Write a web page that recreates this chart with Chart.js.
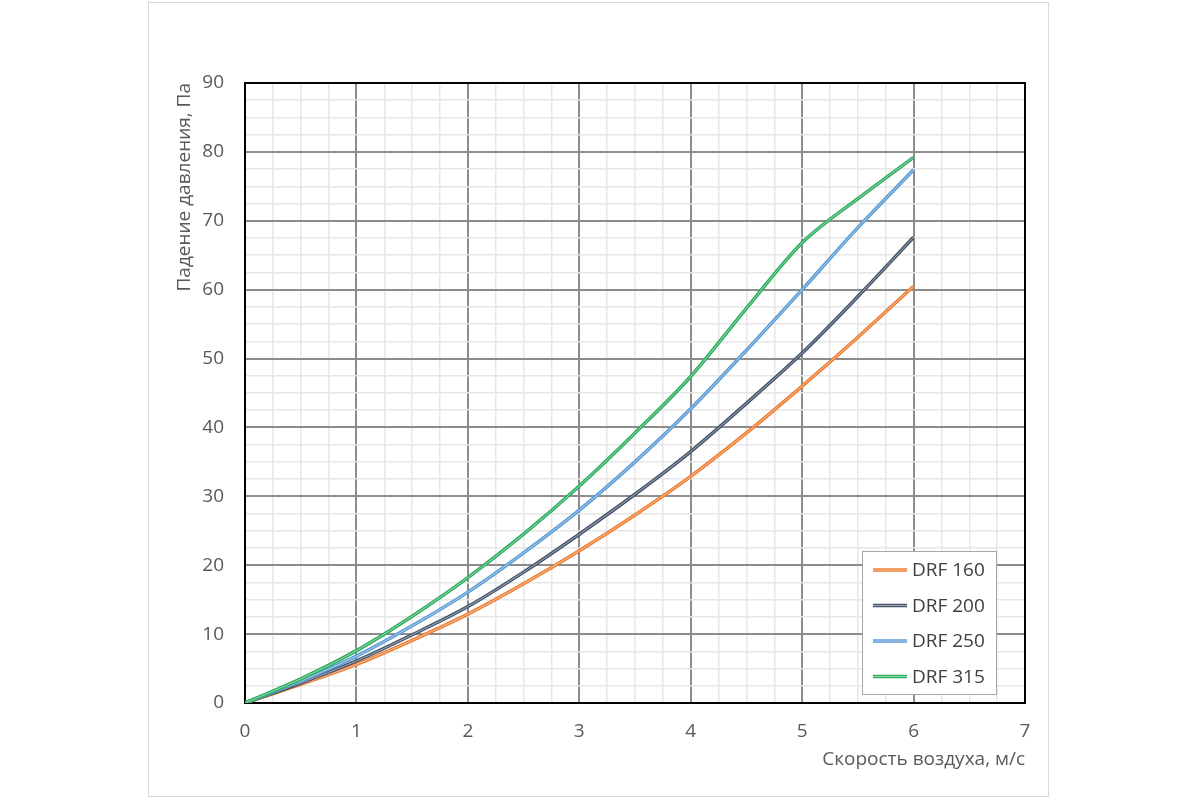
<!DOCTYPE html>
<html>
<head>
<meta charset="utf-8">
<script src="https://cdn.jsdelivr.net/npm/chart.js@4.4.1/dist/chart.umd.min.js"></script>
<style>
  html, body { margin: 0; padding: 0; background: #fff; }
  #frame {
    position: absolute; left: 148px; top: 2px;
    width: 899px; height: 793px;
    border: 1px solid #d9d9d9;
  }
</style>
</head>
<body>
<div id="frame"><canvas id="chartDrop" width="899" height="793"></canvas></div>
<script>
// air speed, m/s
const speed = [0, 0.5, 1, 1.5, 2, 2.5, 3, 3.5, 4, 4.5, 5, 5.5, 6];

// pressure drop, Pa
const drf160 = [0, 2.7, 5.6, 9.1, 12.9, 17.3, 22.1, 27.3, 32.9, 39.2, 46.0, 53.1, 60.5];
const drf200 = [0, 2.9, 6.1, 9.9, 14.0, 19.0, 24.5, 30.3, 36.5, 43.5, 50.8, 59.0, 67.6];
const drf250 = [0, 3.2, 6.8, 11.2, 16.1, 21.8, 28.0, 35.0, 42.7, 51.2, 60.0, 69.0, 77.4];
const drf315 = [0, 3.5, 7.6, 12.6, 18.2, 24.5, 31.5, 39.2, 47.4, 57.3, 66.8, 73.2, 79.2];

const seriesNames = ['DRF 160', 'DRF 200', 'DRF 250', 'DRF 315'];
const seriesData = [drf160, drf200, drf250, drf315];
const seriesColors = ['#ED7D31', '#44546A', '#5B9BD5', '#2DAE5E'];

const xMax = 7, yMax = 90;

Chart.defaults.font.family = '"Open Sans", sans-serif';
Chart.defaults.font.size = 19;
Chart.defaults.color = '#595959';

function toPoints(arr) {
	return arr.map(function (v, i) {
		return { x: speed[i], y: v };
	});
}

// every curve is drawn twice: coloured line plus a light core (double line look)
let datasets = [];
seriesData.forEach(function (arr, i) {
	datasets.push({
		label: seriesNames[i],
		data: toPoints(arr),
		borderColor: seriesColors[i],
		borderWidth: 3.5,
		pointRadius: 0,
		cubicInterpolationMode: 'monotone',
		order: 10 - i * 2,
	});
});
seriesData.forEach(function (arr, i) {
	datasets.push({
		label: '',
		data: toPoints(arr),
		borderColor: 'rgba(255,255,255,0.5)',
		borderWidth: 1,
		pointRadius: 0,
		cubicInterpolationMode: 'monotone',
		order: 9 - i * 2,
	});
});

const framePlugin = {
	id: 'frame',
	beforeDatasetsDraw(chart) {
		const a = chart.chartArea;
		const ctx = chart.ctx;
		ctx.save();
		ctx.strokeStyle = '#000';
		ctx.lineWidth = 2;
		ctx.strokeRect(a.left, a.top, a.right - a.left, a.bottom - a.top);
		ctx.restore();
	}
};

const boxLegend = {
	id: 'boxLegend',
	afterDraw(chart) {
		const a = chart.chartArea;
		const ctx = chart.ctx;
		const left = a.right - 163, right = a.right - 29;
		const top = a.bottom - 152, bottom = a.bottom - 9;
		ctx.save();
		ctx.fillStyle = '#fff';
		ctx.fillRect(left, top, right - left, bottom - top);
		ctx.strokeStyle = '#a6a6a6';
		ctx.lineWidth = 1;
		ctx.strokeRect(left + 0.5, top + 0.5, right - left, bottom - top);
		ctx.font = '19px "Open Sans", sans-serif';
		ctx.textBaseline = 'middle';
		seriesNames.forEach(function (name, i) {
			const y = top + 19 + i * 35.5;
			ctx.strokeStyle = seriesColors[i];
			ctx.lineWidth = 3.5;
			ctx.beginPath();
			ctx.moveTo(left + 11, y);
			ctx.lineTo(left + 45, y);
			ctx.stroke();
			ctx.strokeStyle = 'rgba(255,255,255,0.5)';
			ctx.lineWidth = 1;
			ctx.beginPath();
			ctx.moveTo(left + 11, y);
			ctx.lineTo(left + 45, y);
			ctx.stroke();
			ctx.fillStyle = '#404040';
			ctx.fillText(name, left + 50, y + 1);
		});
		ctx.restore();
	}
};

let chartDrop = document.getElementById('chartDrop').getContext('2d');

let drop = new Chart(chartDrop, {
	type: 'line',
	data: { datasets: datasets },
	plugins: [framePlugin, boxLegend],
	options: {
		responsive: false,
		animation: false,
		layout: {
			padding: { left: 20, top: 80, right: 23, bottom: 21 },
		},
		plugins: {
			legend: { display: false },
			tooltip: { enabled: false },
		},
		scales: {
			x: {
				type: 'linear',
				min: 0,
				max: xMax,
				afterFit: function (scale) { scale.height = 72; },
				border: { display: false },
				grid: {
					drawTicks: false,
					color: function (c) { return c.tick && c.tick.value % 1 === 0 ? '#8c8c8c' : '#e6e6e6'; },
					lineWidth: function (c) { return c.tick && c.tick.value % 1 === 0 ? 2 : 1.5; },
				},
				ticks: {
					stepSize: 0.25,
					autoSkip: false,
					maxRotation: 0,
					padding: 17,
					callback: function (v) { return v % 1 === 0 ? v : ''; },
				},
				title: {
					display: true,
					text: 'Скорость воздуха, м/с',
					align: 'end',
					font: { size: 19 },
				},
			},
			y: {
				type: 'linear',
				min: 0,
				max: yMax,
				afterFit: function (scale) { scale.width = 76; },
				border: { display: false },
				grid: {
					drawTicks: false,
					color: function (c) { return c.tick && c.tick.value % 10 === 0 ? '#8c8c8c' : '#e6e6e6'; },
					lineWidth: function (c) { return c.tick && c.tick.value % 10 === 0 ? 2 : 1.5; },
				},
				ticks: {
					stepSize: 2.5,
					autoSkip: false,
					padding: 21,
					callback: function (v) { return v % 10 === 0 ? v : ''; },
				},
				title: {
					display: true,
					text: 'Падение давления, Па',
					align: 'end',
					font: { size: 19 },
				},
			},
		},
	},
});
</script>
</body>
</html>
